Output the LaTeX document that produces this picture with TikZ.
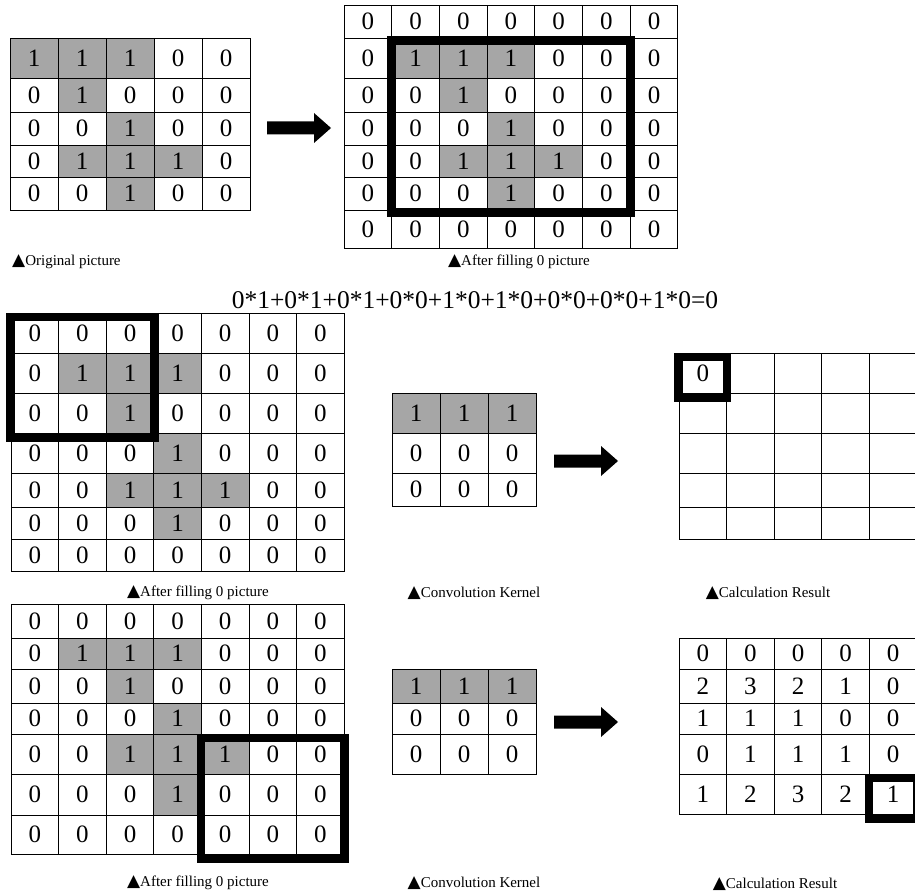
\documentclass[tikz,border=0pt]{standalone}
\usepackage{fontspec}
\setmainfont{Liberation Serif}
\newfontfamily\symfont{DejaVu Sans}
\usetikzlibrary{positioning}

\definecolor{on}{RGB}{166,166,166}
\colorlet{off}{white}

\newcommand{\cellfont}{\fontsize{25}{25}\selectfont}
\newcommand{\labfont}{\fontsize{15}{16}\selectfont}
\newcommand{\tri}{{\symfont\fontsize{17}{16}\selectfont ▲}}

% #1 name, #2 left x, #3 column width, #4 rows: ytop/ybottom/{value/fill,...}
\newcommand{\matgrid}[4]{%
  \foreach \yt/\yb/\vals [count=\ri] in {#4} {
    \foreach \v/\s [count=\ci] in \vals {
      \node[cell, fill=\s, minimum width=#3pt, minimum height={(\yb-\yt)*1pt}]
        (#1-\ri-\ci) at ({#2+(\ci-0.5)*#3}, {(\yt+\yb)/2}) {\v};
    }
  }}

\begin{document}
\begin{tikzpicture}[x=1pt,y=-1pt]
\tikzstyle{cell}=[draw, line width=0.9pt, rectangle, inner sep=0pt, font=\cellfont]
\tikzstyle{frame}=[line width=8.5pt]
\tikzstyle{lab}=[inner sep=0pt, font=\labfont]
\tikzset{blockarrow/.pic={\fill (0,-6.5) -- (47,-6.5) -- (47,-15) -- (64,0) -- (47,15) -- (47,6.5) -- (0,6.5) -- cycle;}}

\useasboundingbox (0,0) rectangle (915,896);

\matgrid{orig}{10}{48}{
  38/78/{1/on,1/on,1/on,0/off,0/off},
  78/112/{0/off,1/on,0/off,0/off,0/off},
  112/145/{0/off,0/off,1/on,0/off,0/off},
  145/177/{0/off,1/on,1/on,1/on,0/off},
  177/210/{0/off,0/off,1/on,0/off,0/off}}

\matgrid{pad}{344}{47.7}{
  5/38/{0/off,0/off,0/off,0/off,0/off,0/off,0/off},
  38/78/{0/off,1/on,1/on,1/on,0/off,0/off,0/off},
  78/112/{0/off,0/off,1/on,0/off,0/off,0/off,0/off},
  112/145/{0/off,0/off,0/off,1/on,0/off,0/off,0/off},
  145/177/{0/off,0/off,1/on,1/on,1/on,0/off,0/off},
  177/210/{0/off,0/off,0/off,1/on,0/off,0/off,0/off},
  210/248/{0/off,0/off,0/off,0/off,0/off,0/off,0/off}}

\matgrid{padA}{11}{47.6}{
  313/353/{0/off,0/off,0/off,0/off,0/off,0/off,0/off},
  353/393/{0/off,1/on,1/on,1/on,0/off,0/off,0/off},
  393/433/{0/off,0/off,1/on,0/off,0/off,0/off,0/off},
  433/473/{0/off,0/off,0/off,1/on,0/off,0/off,0/off},
  473/507/{0/off,0/off,1/on,1/on,1/on,0/off,0/off},
  507/539/{0/off,0/off,0/off,1/on,0/off,0/off,0/off},
  539/571/{0/off,0/off,0/off,0/off,0/off,0/off,0/off}}

\matgrid{padB}{11}{47.6}{
  604/638/{0/off,0/off,0/off,0/off,0/off,0/off,0/off},
  638/669/{0/off,1/on,1/on,1/on,0/off,0/off,0/off},
  669/703/{0/off,0/off,1/on,0/off,0/off,0/off,0/off},
  703/734/{0/off,0/off,0/off,1/on,0/off,0/off,0/off},
  734/774/{0/off,0/off,1/on,1/on,1/on,0/off,0/off},
  774/815/{0/off,0/off,0/off,1/on,0/off,0/off,0/off},
  815/854/{0/off,0/off,0/off,0/off,0/off,0/off,0/off}}

\matgrid{kerA}{392}{48}{
  393/433/{1/on,1/on,1/on},
  433/473/{0/off,0/off,0/off},
  473/506/{0/off,0/off,0/off}}

\matgrid{kerB}{392}{48}{
  669/703/{1/on,1/on,1/on},
  703/734/{0/off,0/off,0/off},
  734/774/{0/off,0/off,0/off}}

\matgrid{resA}{679}{47.6}{
  353/393/{0/off,{}/off,{}/off,{}/off,{}/off},
  393/433/{{}/off,{}/off,{}/off,{}/off,{}/off},
  433/473/{{}/off,{}/off,{}/off,{}/off,{}/off},
  473/507/{{}/off,{}/off,{}/off,{}/off,{}/off},
  507/539/{{}/off,{}/off,{}/off,{}/off,{}/off}}

\matgrid{resB}{679}{47.6}{
  638/669/{0/off,0/off,0/off,0/off,0/off},
  669/703/{2/off,3/off,2/off,1/off,0/off},
  703/734/{1/off,1/off,1/off,0/off,0/off},
  734/774/{0/off,1/off,1/off,1/off,0/off},
  774/814/{1/off,2/off,3/off,2/off,1/off}}

\draw[frame] ([yshift=-3pt]pad-2-2.north west) rectangle ([yshift=-2pt]pad-6-6.south east);
\draw[frame] ([yshift=-4.5pt]padA-1-1.north west) rectangle ([yshift=-4.5pt]padA-3-3.south east);
\draw[frame] ([yshift=-4.5pt]padB-5-5.north west) rectangle ([yshift=-4.5pt]padB-7-7.south east);
\draw[frame] ([yshift=-4.5pt]resA-1-1.north west) rectangle ([yshift=-4.5pt]resA-1-1.south east);
\draw[frame] ([yshift=-4.5pt]resB-5-5.north west) rectangle ([yshift=-4.5pt]resB-5-5.south east);

\pic at (267,128) {blockarrow};
\pic at (554,461) {blockarrow};
\pic at (554,722) {blockarrow};

\node[inner sep=0pt, font=\fontsize{25.5}{26}\selectfont] (sum) at (475,300) {0*1+0*1+0*1+0*0+1*0+1*0+0*0+0*0+1*0=0};

\node[lab, anchor=west] (labOrig) at (12,262) {\tri Original picture};
\node[lab] (labPad) at (519,262) {\tri After filling 0 picture};
\node[lab] (labPadA) at (198,593) {\tri After filling 0 picture};
\node[lab] (labKerA) at (474,593) {\tri Convolution Kernel};
\node[lab] (labResA) at (768,593) {\tri Calculation Result};
\node[lab] (labPadB) at (198,883) {\tri After filling 0 picture};
\node[lab] (labKerB) at (474,883) {\tri Convolution Kernel};
\node[lab] (labResB) at (775,884) {\tri Calculation Result};
\end{tikzpicture}
\end{document}
